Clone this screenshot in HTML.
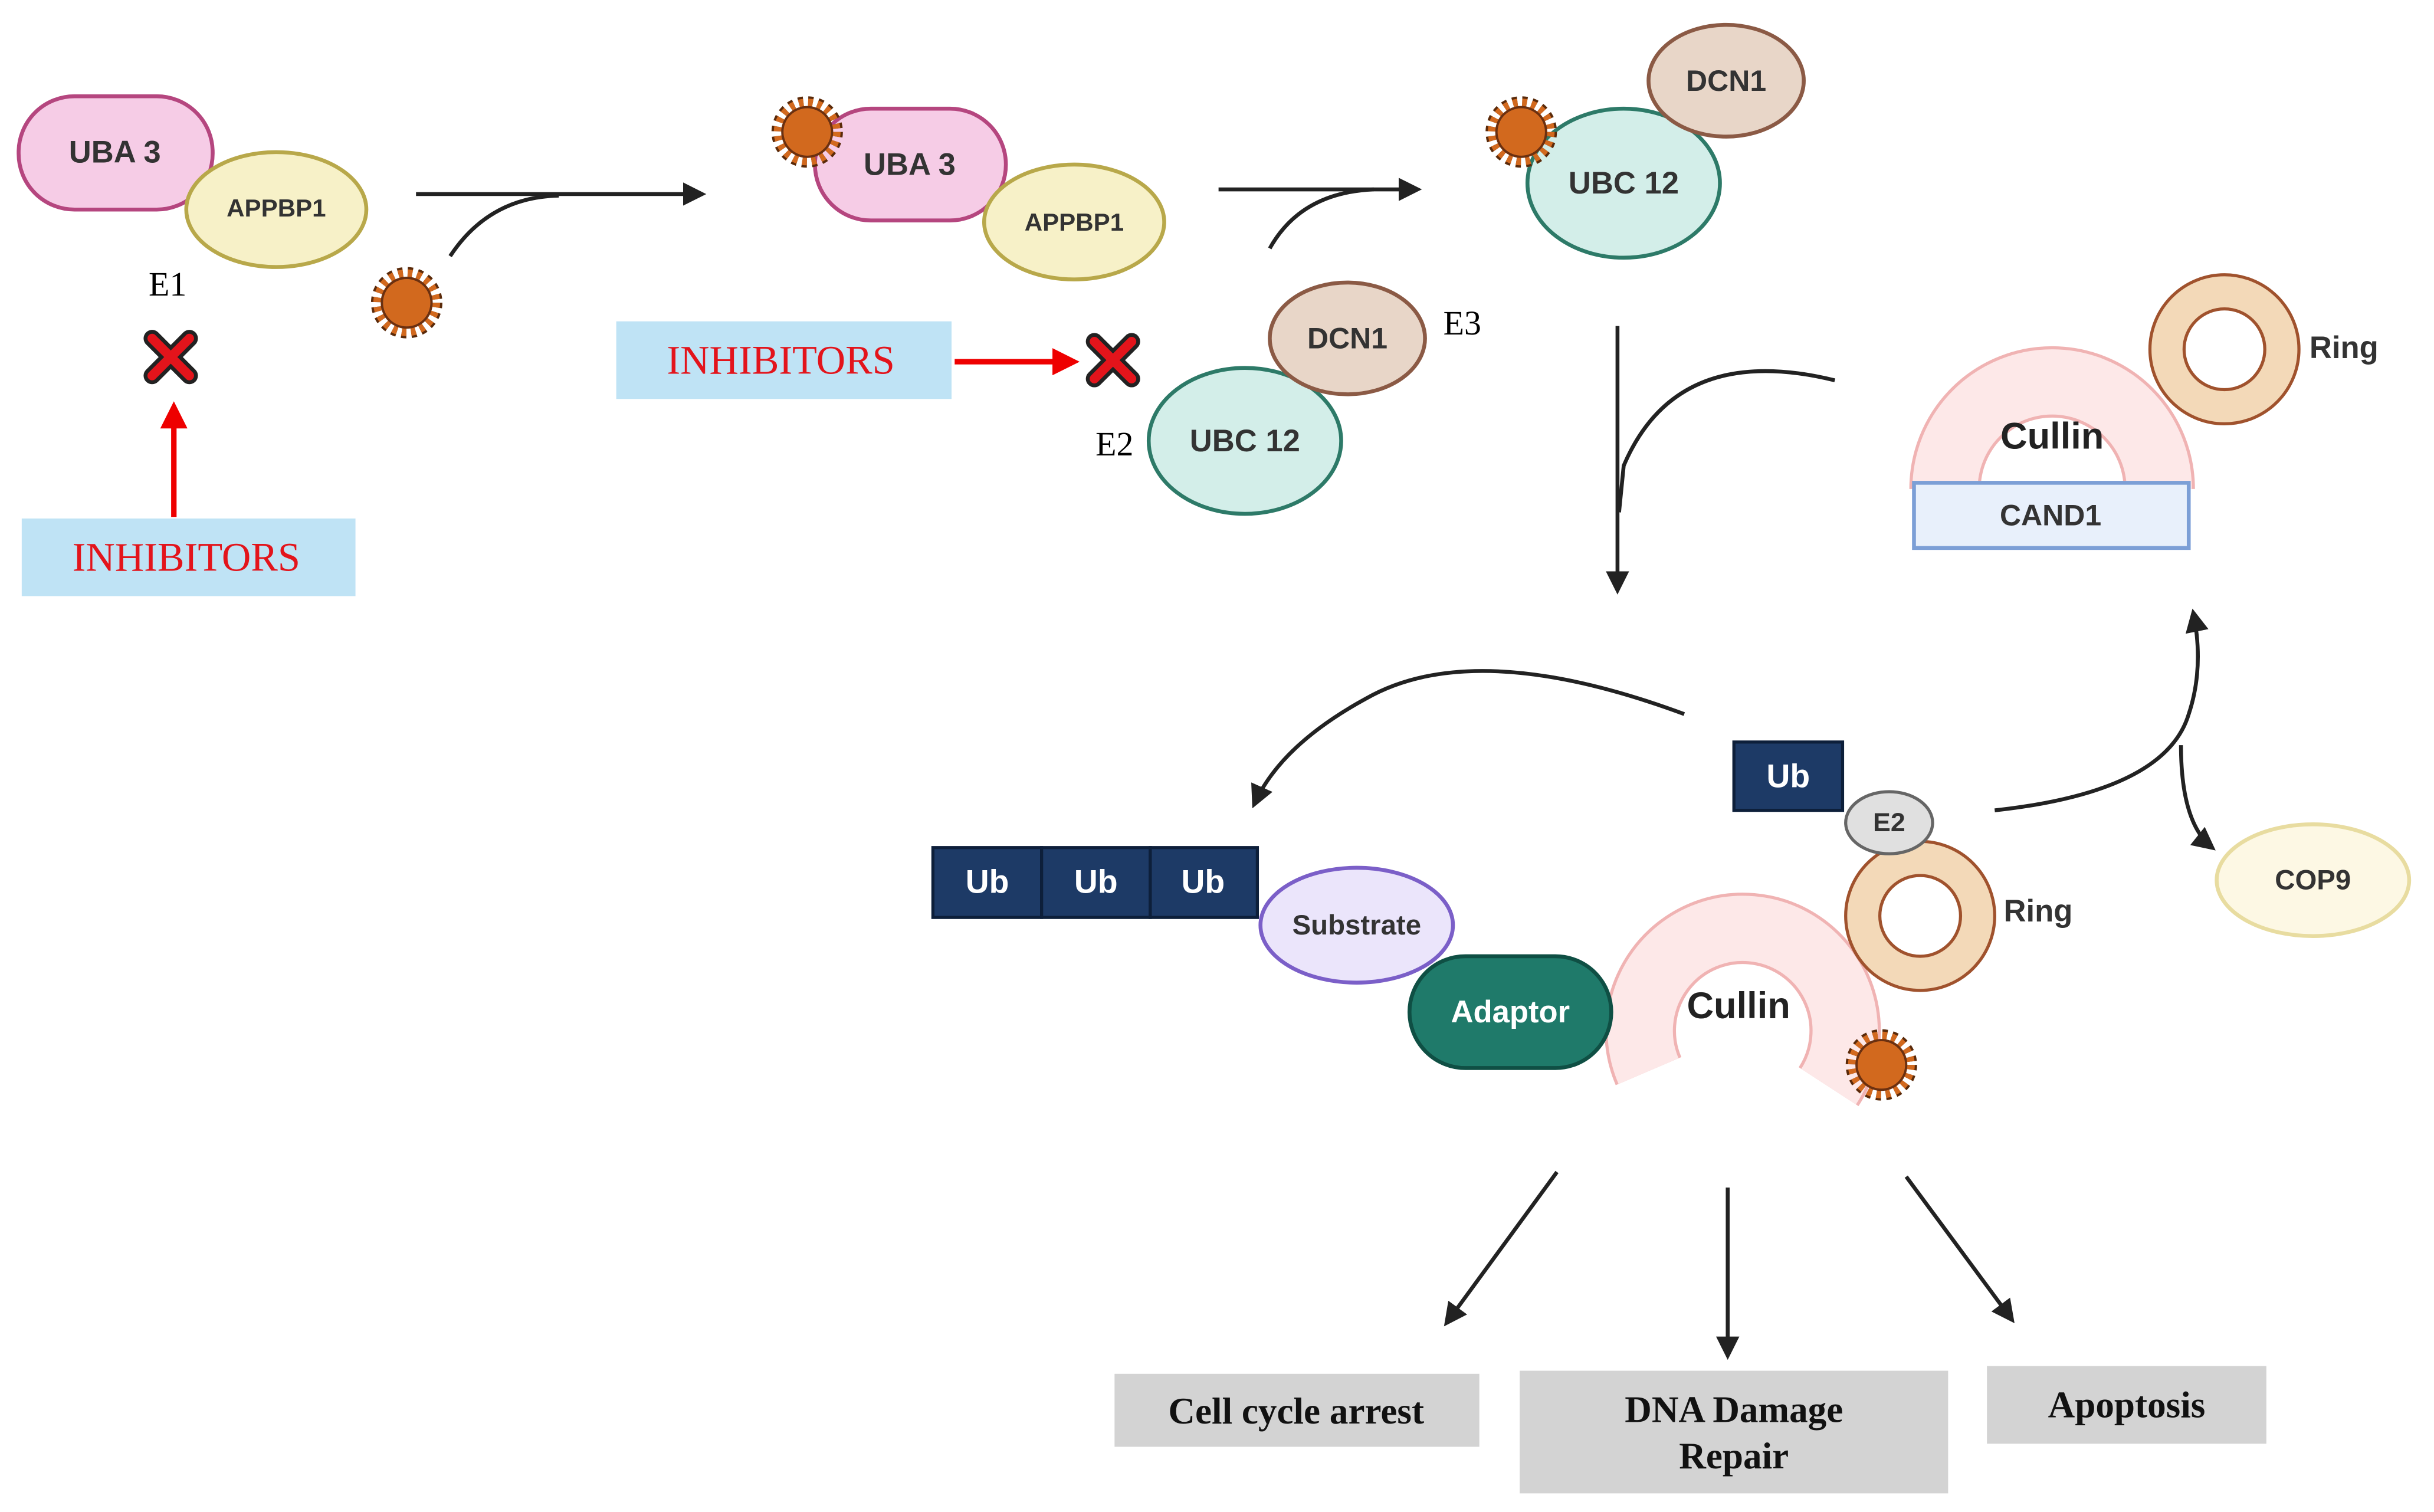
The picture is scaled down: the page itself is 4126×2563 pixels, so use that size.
<!DOCTYPE html>
<html><head><meta charset="utf-8"><style>
html,body{margin:0;padding:0;background:#fff;}
svg{display:block;}
.lb{font-family:"Liberation Sans",sans-serif;font-weight:bold;fill:#333;text-anchor:middle;dominant-baseline:central;}
.w{fill:#fff;}
.sf{font-family:"Liberation Serif",serif;font-weight:bold;text-anchor:middle;dominant-baseline:central;}
.ar{fill:none;stroke:#222;stroke-width:2.5;}
</style></head><body>
<svg width="4126" height="2563" viewBox="0 0 1568 974" xmlns="http://www.w3.org/2000/svg">
<defs>
<marker id="ah" viewBox="0 0 10 10" refX="8" refY="5" markerWidth="6" markerHeight="6" orient="auto"><path d="M0,0L10,5L0,10z" fill="#222"/></marker>
<marker id="rh" viewBox="0 0 10 10" refX="8" refY="5" markerWidth="5" markerHeight="5" orient="auto"><path d="M0,0L10,5L0,10z" fill="#e00"/></marker>
<g id="star"><circle r="19" fill="none" stroke="#5a2a0a" stroke-width="8" stroke-dasharray="3 3"/><circle r="19" fill="none" stroke="#d2691e" stroke-width="5" stroke-dasharray="3 3"/><circle r="16" fill="#d2691e" stroke="#6b3010" stroke-width="1.5"/></g>
<g id="xm"><path d="M-12,-12L12,12M12,-12L-12,12" stroke="#222" stroke-width="11" stroke-linecap="round"/><path d="M-12,-12L12,12M12,-12L-12,12" stroke="#e3141b" stroke-width="6" stroke-linecap="round"/></g>
<g id="ring"><circle r="37" fill="none" stroke="#a0522d" stroke-width="24"/><circle r="37" fill="none" stroke="#f3d9b8" stroke-width="20"/></g>
</defs>

<rect x="12" y="62" width="125" height="73" rx="36" fill="#f6cce6" stroke="#b5467f" stroke-width="2.5"/>
<text x="74" y="98" class="lb" font-size="20">UBA 3</text>
<ellipse cx="178" cy="135" rx="58" ry="37" fill="#f7f1c8" stroke="#b8a84a" stroke-width="2.5"/>
<text x="178" y="134" class="lb" font-size="16">APPBP1</text>
<text x="108" y="183" class="sf" font-size="22" style="font-weight:normal">E1</text>
<use href="#xm" x="110" y="230"/>
<line x1="112" y1="333" x2="112" y2="262" stroke="#e00" stroke-width="3.5" marker-end="url(#rh)"/>
<rect x="14" y="334" width="215" height="50" fill="#bfe3f5"/>
<text x="120" y="359" class="sf" font-size="26" style="font-weight:normal;fill:#e3141b">INHIBITORS</text>
<use href="#star" x="262" y="195"/>
<line x1="268" y1="125" x2="452" y2="125" class="ar" marker-end="url(#ah)"/>
<path d="M290,165 Q315,127 360,126" class="ar"/>

<rect x="525" y="70" width="123" height="72" rx="36" fill="#f6cce6" stroke="#b5467f" stroke-width="2.5"/>
<text x="586" y="106" class="lb" font-size="20">UBA 3</text>
<use href="#star" x="520" y="85"/>
<ellipse cx="692" cy="143" rx="58" ry="37" fill="#f7f1c8" stroke="#b8a84a" stroke-width="2.5"/>
<text x="692" y="143" class="lb" font-size="16">APPBP1</text>
<rect x="397" y="207" width="216" height="50" fill="#bfe3f5"/>
<text x="503" y="232" class="sf" font-size="26" style="font-weight:normal;fill:#e3141b">INHIBITORS</text>
<line x1="615" y1="233" x2="692" y2="233" stroke="#e00" stroke-width="3.5" marker-end="url(#rh)"/>
<use href="#xm" x="717" y="232"/>
<ellipse cx="802" cy="284" rx="62" ry="47" fill="#d3eee9" stroke="#2d7a68" stroke-width="2.5"/>
<text x="802" y="284" class="lb" font-size="20">UBC 12</text>
<ellipse cx="868" cy="218" rx="50" ry="36" fill="#e8d6c8" stroke="#8b5a45" stroke-width="2.5"/>
<text x="868" y="218" class="lb" font-size="19">DCN1</text>
<text x="942" y="208" class="sf" font-size="22" style="font-weight:normal">E3</text>
<text x="718" y="286" class="sf" font-size="22" style="font-weight:normal">E2</text>
<line x1="785" y1="122" x2="913" y2="122" class="ar" marker-end="url(#ah)"/>
<path d="M818,160 Q838,124 885,122" class="ar"/>

<ellipse cx="1046" cy="118" rx="62" ry="48" fill="#d3eee9" stroke="#2d7a68" stroke-width="2.5"/>
<text x="1046" y="118" class="lb" font-size="20">UBC 12</text>
<ellipse cx="1112" cy="52" rx="50" ry="36" fill="#e8d6c8" stroke="#8b5a45" stroke-width="2.5"/>
<text x="1112" y="52" class="lb" font-size="19">DCN1</text>
<use href="#star" x="980" y="85"/>
<line x1="1042" y1="210" x2="1042" y2="380" class="ar" marker-end="url(#ah)"/>
<path d="M1182,245 Q1080,220 1046,300 L1043,330" class="ar"/>

<path d="M1253,315 A69,69 0 1 1 1391,315" fill="none" stroke="#f0b3b3" stroke-width="46"/>
<path d="M1253,315 A69,69 0 1 1 1391,315" fill="none" stroke="#fde8e8" stroke-width="42"/>
<text x="1322" y="281" class="lb" font-size="24" style="fill:#222">Cullin</text>
<rect x="1233" y="311" width="177" height="42" fill="#e8f0fb" stroke="#7c9fd6" stroke-width="2.5"/>
<text x="1321" y="332" class="lb" font-size="19">CAND1</text>
<use href="#ring" x="1433" y="225"/>
<text x="1510" y="224" class="lb" font-size="20">Ring</text>

<path d="M1285,522 Q1395,510 1410,460 Q1420,430 1413,395" class="ar" marker-end="url(#ah)"/>
<path d="M1405,480 Q1405,530 1425,546" class="ar" marker-end="url(#ah)"/>
<ellipse cx="1490" cy="567" rx="62" ry="36" fill="#fdf8e4" stroke="#e8dca0" stroke-width="2.5"/>
<text x="1490" y="567" class="lb" font-size="18">COP9</text>

<path d="M1085,460 Q950,410 880,450 Q825,480 808,518" class="ar" marker-end="url(#ah)"/>
<path d="M1062,690 A66,66 0 1 1 1178,700" fill="none" stroke="#f0b3b3" stroke-width="46"/>
<path d="M1062,690 A66,66 0 1 1 1178,700" fill="none" stroke="#fde8e8" stroke-width="42"/>
<text x="1120" y="648" class="lb" font-size="24" style="fill:#222">Cullin</text>
<use href="#star" x="1212" y="686"/>
<use href="#ring" x="1237" y="590"/>
<text x="1313" y="587" class="lb" font-size="20">Ring</text>
<rect x="1117" y="478" width="70" height="44" fill="#1d3a66" stroke="#0d1f3a" stroke-width="2"/>
<text x="1152" y="500" class="lb w" font-size="21" style="fill:#fff">Ub</text>
<ellipse cx="1217" cy="530" rx="28" ry="20" fill="#e0e0e0" stroke="#666" stroke-width="2"/>
<text x="1217" y="530" class="lb" font-size="17">E2</text>
<rect x="908" y="616" width="130" height="72" rx="36" fill="#1f7a6a" stroke="#0f4f44" stroke-width="2.5"/>
<text x="973" y="652" class="lb" font-size="20" style="fill:#fff">Adaptor</text>
<ellipse cx="874" cy="596" rx="62" ry="37" fill="#ebe5fb" stroke="#7b5fc8" stroke-width="2.5"/>
<text x="874" y="596" class="lb" font-size="18">Substrate</text>
<rect x="601" y="546" width="70" height="45" fill="#1d3a66" stroke="#0d1f3a" stroke-width="2"/>
<rect x="671" y="546" width="70" height="45" fill="#1d3a66" stroke="#0d1f3a" stroke-width="2"/>
<rect x="741" y="546" width="69" height="45" fill="#1d3a66" stroke="#0d1f3a" stroke-width="2"/>
<text x="636" y="568" class="lb" font-size="21" style="fill:#fff">Ub</text>
<text x="706" y="568" class="lb" font-size="21" style="fill:#fff">Ub</text>
<text x="775" y="568" class="lb" font-size="21" style="fill:#fff">Ub</text>

<line x1="1003" y1="755" x2="932" y2="852" class="ar" marker-end="url(#ah)"/>
<line x1="1113" y1="765" x2="1113" y2="873" class="ar" marker-end="url(#ah)"/>
<line x1="1228" y1="758" x2="1296" y2="850" class="ar" marker-end="url(#ah)"/>
<rect x="718" y="885" width="235" height="47" fill="#d3d3d3"/>
<text x="835" y="909" class="sf" font-size="24" style="fill:#111">Cell cycle arrest</text>
<rect x="979" y="883" width="276" height="79" fill="#d3d3d3"/>
<text x="1117" y="908" class="sf" font-size="24" style="fill:#111">DNA Damage</text>
<text x="1117" y="938" class="sf" font-size="24" style="fill:#111">Repair</text>
<rect x="1280" y="880" width="180" height="50" fill="#d3d3d3"/>
<text x="1370" y="905" class="sf" font-size="24" style="fill:#111">Apoptosis</text>
</svg>
</body></html>
